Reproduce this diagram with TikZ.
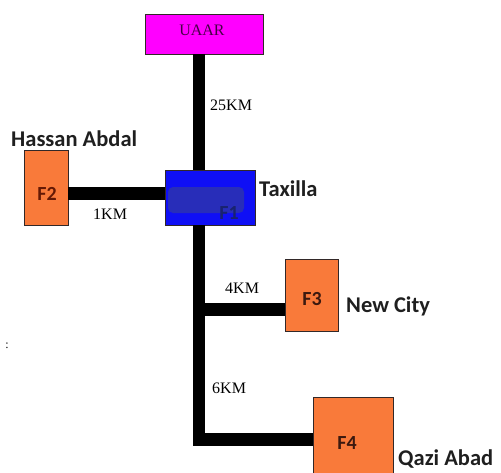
\documentclass[tikz,border=0pt]{standalone}
\usepackage{fontspec}
\setmainfont{Liberation Serif}
\newfontfamily\lblfont{Carlito}
\definecolor{mag}{RGB}{255,0,255}
\definecolor{orng}{RGB}{249,122,58}
\definecolor{blu}{RGB}{15,15,245}
\definecolor{bluin}{RGB}{40,45,185}
\definecolor{navy}{RGB}{25,35,110}
\definecolor{bord}{RGB}{50,40,40}
\begin{document}
\begin{tikzpicture}[x=1pt,y=-1pt,
  road/.style={line width=13pt,black,line cap=butt,line join=miter},
  boxst/.style={draw=bord,line width=0.8pt,inner sep=0pt,rectangle},
  fact/.style={font=\lblfont\bfseries\fontsize{20}{22}\selectfont},
  place/.style={font=\lblfont\bfseries\fontsize{22.5}{24}\selectfont,text=black!88,inner sep=0pt},
  dist/.style={font=\fontsize{16}{17}\selectfont,text=black,inner sep=0pt}]
\useasboundingbox (0,0) rectangle (501,472);
\clip (0,0) rectangle (501,472);
% boxes
\node[boxst,fill=mag,minimum width=118pt,minimum height=40pt] (uaar) at (204,34) {};
\node[font=\fontsize{16}{17}\selectfont,text={rgb,255:red,70;green,0;blue,70}] (uaart) at (202,30) {UAAR};
\node[boxst,fill=blu,minimum width=90pt,minimum height=55pt] (f1) at (210,197.5) {};
\fill[bluin,rounded corners=5pt] (168,187) rectangle (244,213);
\node[fact,text=navy] (f1t) at (229,213) {F1};
\node[boxst,fill=orng,minimum width=44pt,minimum height=75pt] (f2) at (46,187.5) {};
\node[fact,text={rgb,255:red,100;green,25;blue,5}] (f2t) at (47,193.5) {F2};
\node[boxst,fill=orng,minimum width=53pt,minimum height=72pt] (f3) at (311.5,295.5) {};
\node[fact,text={rgb,255:red,60;green,25;blue,15}] (f3t) at (312,299.5) {F3};
\node[boxst,fill=orng,minimum width=80pt,minimum height=90pt] (f4) at (353,442) {};
\node[fact,text={rgb,255:red,60;green,25;blue,15}] (f4t) at (347,443.5) {F4};
% roads
\coordinate (vx) at (199,0);
\coordinate (j3) at (199,309);
\coordinate (corner) at (199,439);
\draw[road,line width=12pt] (uaar.south -| vx) -- (f1.north -| vx);
\draw[road] (f2.east |- 0,193) -- (f1.west |- 0,193);
\draw[road,line width=12pt] (f1.south -| vx) -- ([yshift=6.5pt]corner);
\draw[road] ([xshift=-6pt]corner) -- (f4.west |- corner);
\draw[road] ([xshift=-6pt]j3) -- (f3.west |- j3);
% labels
\node[dist,anchor=west] (d25) at (210,105) {25KM};
\node[dist,anchor=west] (d1) at (93,214) {1KM};
\node[dist,anchor=west] (d4) at (225,288) {4KM};
\node[dist,anchor=west] (d6) at (212,388) {6KM};
\node[place,anchor=base west] (hassan) at (11,146) {Hassan Abdal};
\node[place,anchor=base west] (taxilla) at (259,196) {Taxilla};
\node[place,anchor=base west] (newcity) at (346,312) {New City};
\node[place,anchor=base west] (qazi) at (398,465) {Qazi Abad};
\node[font=\fontsize{12}{12}\selectfont,inner sep=0pt] (colon) at (7,346) {:};
\end{tikzpicture}
\end{document}
